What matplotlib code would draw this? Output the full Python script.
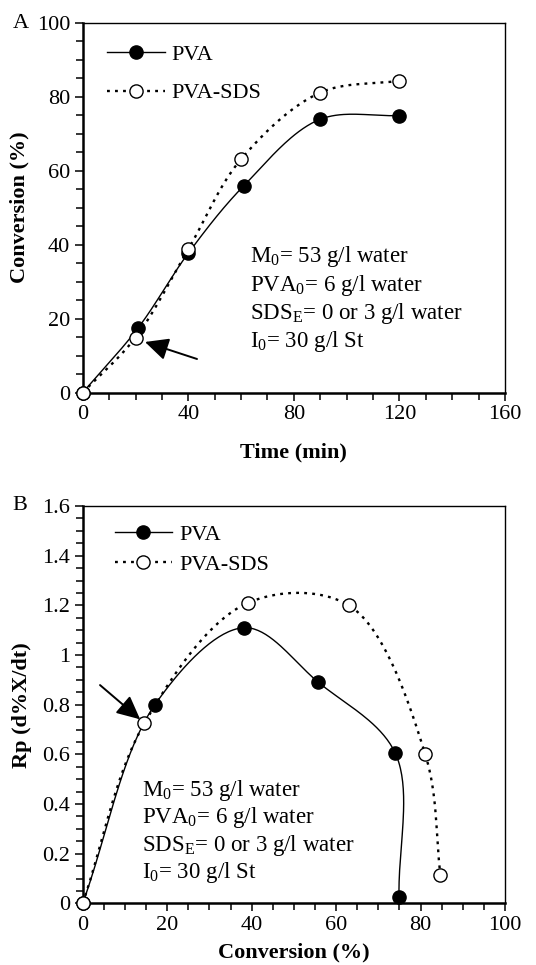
#!/usr/bin/env python3

import numpy as np
import matplotlib
matplotlib.use('Agg')
from matplotlib import pyplot as plt
from matplotlib.ticker import MultipleLocator, FuncFormatter

plt.rcParams['font.family'] = ['Liberation Serif', 'DejaVu Serif']
plt.rcParams['mathtext.fontset'] = 'custom'
plt.rcParams['mathtext.rm'] = 'Liberation Serif'
plt.rcParams['mathtext.it'] = 'Liberation Serif:italic'

# conversion vs time
time_pva = [0, 21, 40, 61, 90, 120]
conv_pva = [0, 17.5, 37.7, 55.9, 73.9, 74.9]
time_sds = [0, 20, 40, 60, 90, 120]
conv_sds = [0, 14.9, 38.8, 63.1, 81.1, 84.3]

# rate vs conversion
rp_conv_pva = [0, 17.1, 38.3, 55.8, 74.0, 74.9]
rp_pva = [0, 0.80, 1.11, 0.89, 0.605, 0.027]
rp_conv_sds = [0, 14.6, 39.1, 63.0, 81.1, 84.7]
rp_sds = [0, 0.725, 1.21, 1.20, 0.60, 0.114]

labels = ['PVA', 'PVA-SDS']
conditions = [r'M$_0$= 53 g/l water',
              r'PVA$_0$= 6 g/l water',
              r'SDS$_\mathrm{E}$= 0 or 3 g/l water',
              r'I$_0$= 30 g/l St']

DOTS = (0, (1.2, 2.2))


def smooth(x, y, xr, yr, n=40):
	# centripetal catmull-rom through the points, scaled so both axes count alike
	p = np.column_stack([np.asarray(x, float) / xr, np.asarray(y, float) / yr])
	p = np.vstack([2 * p[0] - p[1], p, 2 * p[-1] - p[-2]])
	out = []
	for i in range(1, len(p) - 2):
		p0, p1, p2, p3 = p[i - 1], p[i], p[i + 1], p[i + 2]
		t0 = 0.0
		t1 = t0 + np.linalg.norm(p1 - p0) ** 0.5 + 1e-9
		t2 = t1 + np.linalg.norm(p2 - p1) ** 0.5 + 1e-9
		t3 = t2 + np.linalg.norm(p3 - p2) ** 0.5 + 1e-9
		t = np.linspace(t1, t2, n)[:, None]
		a1 = (t1 - t) / (t1 - t0) * p0 + (t - t0) / (t1 - t0) * p1
		a2 = (t2 - t) / (t2 - t1) * p1 + (t - t1) / (t2 - t1) * p2
		a3 = (t3 - t) / (t3 - t2) * p2 + (t - t2) / (t3 - t2) * p3
		b1 = (t2 - t) / (t2 - t0) * a1 + (t - t0) / (t2 - t0) * a2
		b2 = (t3 - t) / (t3 - t1) * a2 + (t - t1) / (t3 - t1) * a3
		c = (t2 - t) / (t2 - t1) * b1 + (t - t1) / (t2 - t1) * b2
		out.append(c if i == 1 else c[1:])
	c = np.vstack(out)
	return c[:, 0] * xr, c[:, 1] * yr


def draw(ax, xa, ya, xb, yb, xr, yr):
	sx, sy = smooth(xa, ya, xr, yr)
	ax.plot(sx, sy, color='k', lw=1.0, zorder=2)
	ax.plot(xa, ya, 'o', color='k', ms=9.5, mec='k', zorder=3, clip_on=False)
	sx, sy = smooth(xb, yb, xr, yr)
	ax.plot(sx, sy, color='k', lw=1.7, ls=DOTS, zorder=2)
	ax.plot(xb, yb, 'o', color='k', ms=9.5, mfc='white', mec='k', mew=1.0,
	        zorder=4, clip_on=False)
	# legend handles
	h1, = ax.plot([], [], color='k', lw=1.0, marker='o', ms=9.5)
	h2, = ax.plot([], [], color='k', lw=1.7, ls=DOTS, marker='o', ms=9.5,
	              mfc='white', mew=1.0)
	return h1, h2


def style(ax):
	for s in ['left', 'bottom']:
		ax.spines[s].set_linewidth(1.8)
	for s in ['top', 'right']:
		ax.spines[s].set_linewidth(1.0)
	ax.tick_params(which='both', direction='out', top=False, right=False,
	               labelsize=16, width=1.1, pad=3)
	ax.tick_params(which='major', length=6)
	ax.tick_params(which='minor', length=5)


def arrow(ax, tip, tail):
	ax.annotate('', xy=tip, xytext=tail,
	            arrowprops=dict(arrowstyle='-|>,head_length=0.75,head_width=0.36',
	                            mutation_scale=19, color='k', lw=1.4,
	                            shrinkA=0, shrinkB=0))


fig = plt.figure(figsize=(5.36, 9.65), dpi=100)

# panel A
ax1 = fig.add_axes([0.1543, 0.5931, 0.788, 0.3834])
h1, h2 = draw(ax1, time_pva, conv_pva, time_sds, conv_sds, 160, 100)
ax1.set_xlim(0, 160)
ax1.set_ylim(0, 100)
ax1.xaxis.set_major_locator(MultipleLocator(40))
ax1.xaxis.set_minor_locator(MultipleLocator(10))
ax1.yaxis.set_major_locator(MultipleLocator(20))
ax1.yaxis.set_minor_locator(MultipleLocator(5))
style(ax1)
ax1.set_xlabel('Time (min)', fontsize=16, fontweight='bold')
ax1.set_ylabel('Conversion (%)', fontsize=16, fontweight='bold')
ax1.xaxis.set_label_coords(0.5, -0.135)
ax1.yaxis.set_label_coords(-0.125, 0.5)
ax1.legend([h1, h2], labels, loc='upper left', frameon=False, fontsize=16,
           handlelength=2.6, handletextpad=0.3, labelspacing=0.8,
           bbox_to_anchor=(0.01, 0.995))
for k, s in enumerate(conditions):
	ax1.text(0.396, 0.367 - 0.0765 * k, s, transform=ax1.transAxes,
	         fontsize=16.5, va='center', ha='left')
arrow(ax1, (23.6, 13.7), (43.3, 9.1))
fig.text(21 / 536, 1 - 23 / 965, 'A', fontsize=16, va='center', ha='center')

# panel B
ax2 = fig.add_axes([0.1543, 0.0639, 0.788, 0.4117])
h1, h2 = draw(ax2, rp_conv_pva, rp_pva, rp_conv_sds, rp_sds, 100, 1.6)
ax2.set_xlim(0, 100)
ax2.set_ylim(0, 1.6)
ax2.xaxis.set_major_locator(MultipleLocator(20))
ax2.xaxis.set_minor_locator(MultipleLocator(5))
ax2.yaxis.set_major_locator(MultipleLocator(0.2))
ax2.yaxis.set_minor_locator(MultipleLocator(0.05))
ax2.yaxis.set_major_formatter(FuncFormatter(lambda v, p: f'{v:g}'))
style(ax2)
ax2.set_xlabel('Conversion (%)', fontsize=16, fontweight='bold')
ax2.set_ylabel('Rp (d%X/dt)', fontsize=16, fontweight='bold')
ax2.xaxis.set_label_coords(0.5, -0.098)
ax2.yaxis.set_label_coords(-0.12, 0.5)
ax2.legend([h1, h2], labels, loc='upper left', frameon=False, fontsize=16,
           handlelength=2.6, handletextpad=0.3, labelspacing=0.45,
           bbox_to_anchor=(0.028, 1.005))
for k, s in enumerate(conditions):
	ax2.text(0.14, 0.285 - 0.0695 * k, s, transform=ax2.transAxes,
	         fontsize=16.5, va='center', ha='left')
arrow(ax2, (13.6, 0.741), (4.1, 0.879))
fig.text(20 / 536, 1 - 505 / 965, 'B', fontsize=16, va='center', ha='center')

fig.savefig('out.png', dpi=100)
